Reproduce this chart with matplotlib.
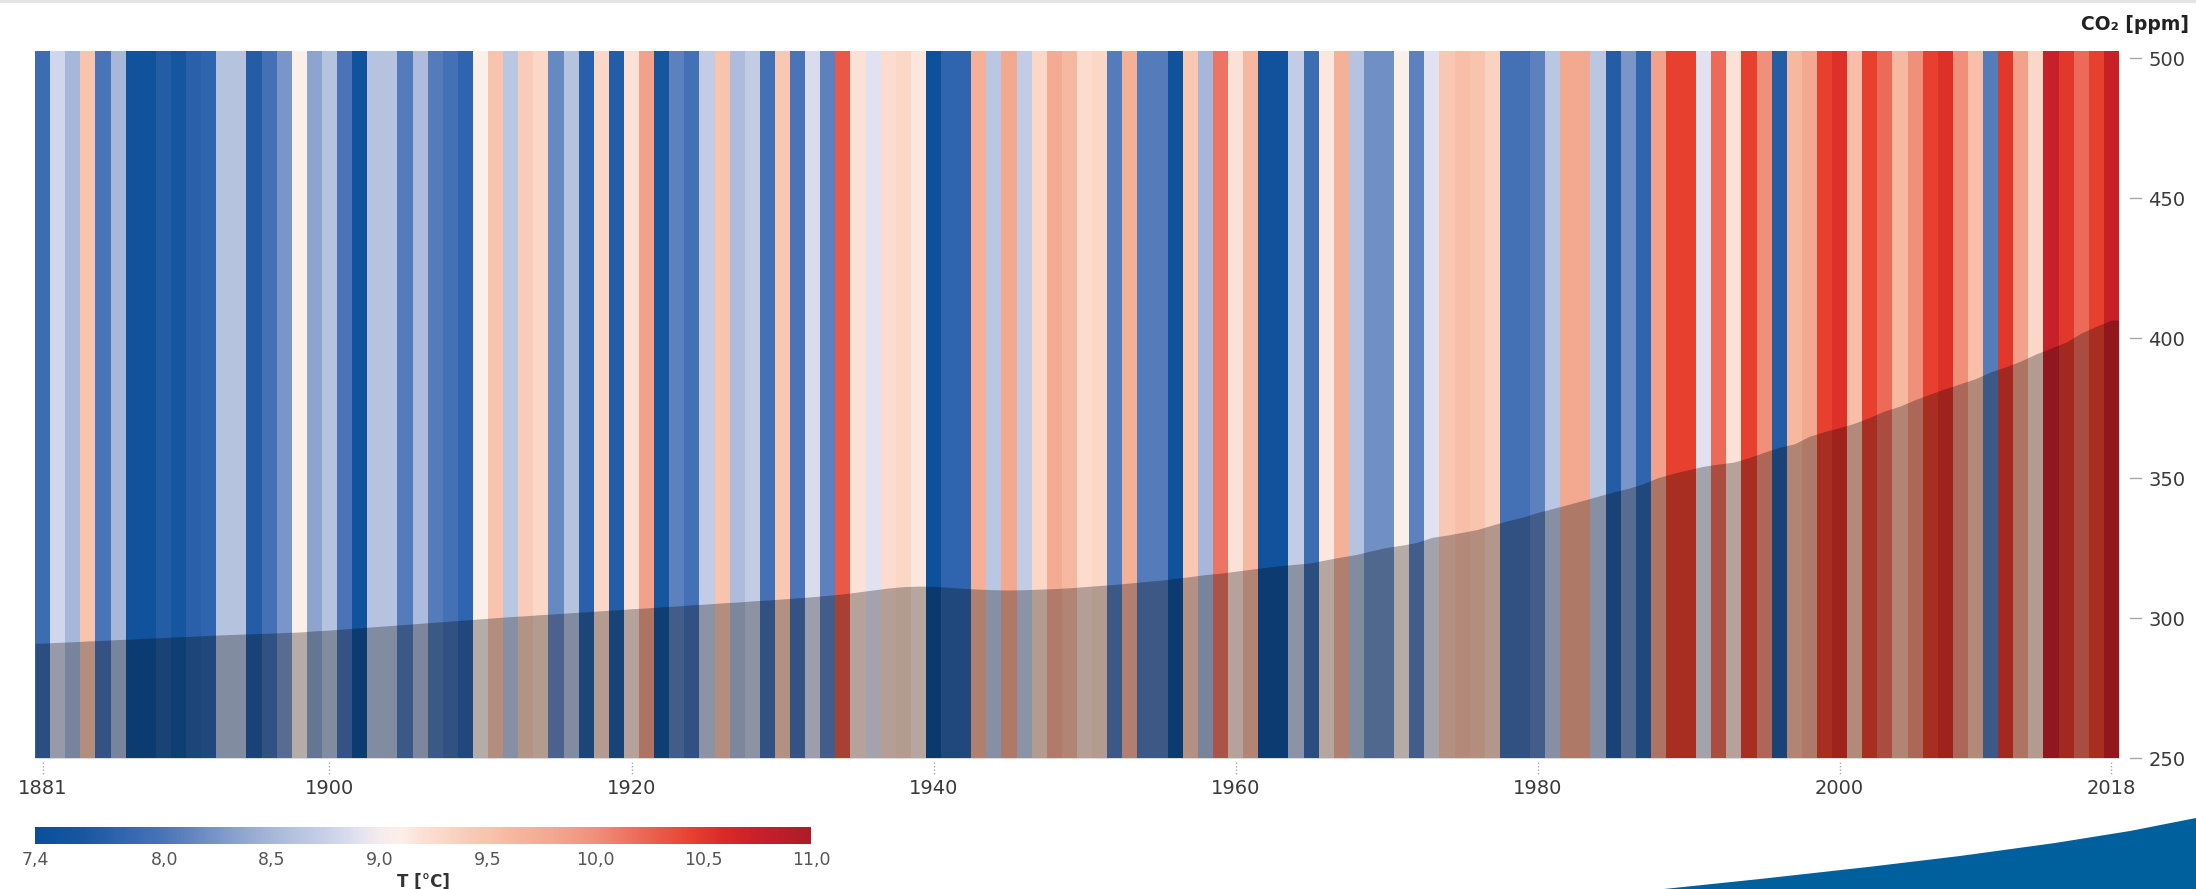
import numpy as np
import matplotlib
matplotlib.use("Agg")
import matplotlib.pyplot as plt
from matplotlib.colors import LinearSegmentedColormap, Normalize
from matplotlib.cm import ScalarMappable
from matplotlib.patches import Polygon, Rectangle
import matplotlib.transforms as mtransforms

# ---------------- data ----------------
years = np.arange(1881, 2019)

temperature = [
    7.9, 8.8, 8.5, 9.5, 8.0, 8.5, 7.5, 7.5, 7.7, 7.6,          # 1881-1890
    7.75, 7.8, 8.6, 8.6, 7.7, 7.95, 8.25, 9.1, 8.35, 8.6,      # 1891-1900
    8.0, 7.5, 8.6, 8.6, 8.05, 8.55, 8.05, 7.95, 7.8, 9.1,      # 1901-1910
    9.5, 8.65, 9.4, 9.3, 8.15, 8.6, 7.75, 9.3, 7.7, 9.2,       # 1911-1920
    9.85, 7.6, 8.1, 7.95, 8.7, 9.5, 8.55, 8.7, 7.95, 9.45,     # 1921-1930
    8.0, 8.85, 8.1, 10.3, 9.2, 8.9, 9.25, 9.3, 9.15, 7.45,     # 1931-1940
    7.8, 7.8, 9.7, 8.65, 9.8, 8.7, 9.3, 9.75, 9.6, 9.25,       # 1941-1950
    9.3, 8.05, 9.7, 8.05, 8.05, 7.5, 9.45, 8.5, 10.15, 9.2,    # 1951-1960
    9.6, 7.5, 7.5, 8.7, 7.9, 9.15, 9.7, 8.6, 8.2, 8.2,         # 1961-1970
    9.1, 8.1, 8.9, 9.45, 9.55, 9.5, 9.35, 7.95, 7.95, 8.1,     # 1971-1980
    8.65, 9.8, 9.8, 8.65, 7.7, 8.25, 7.8, 9.85, 10.45, 10.45,  # 1981-1990
    8.9, 10.2, 9.2, 10.45, 10.0, 7.7, 9.6, 9.8, 10.45, 10.55,  # 1991-2000
    9.55, 10.45, 10.2, 9.6, 10.0, 10.45, 10.55, 10.0, 9.55, 8.05,  # 2001-2010
    10.5, 9.85, 9.3, 10.75, 10.5, 10.2, 10.45, 10.75,          # 2011-2018
]

co2 = [
    291.0, 291.3, 291.5, 291.8, 292.0, 292.3, 292.5, 292.8, 293.0, 293.3,  # 1881-1890
    293.5, 293.8, 294.0, 294.2, 294.4, 294.6, 294.8, 295.0, 295.4, 295.7,  # 1891-1900
    296.1, 296.5, 296.9, 297.3, 297.7, 298.1, 298.5, 298.9, 299.3, 299.7,  # 1901-1910
    300.1, 300.5, 300.8, 301.2, 301.5, 301.9, 302.2, 302.6, 302.9, 303.3,  # 1911-1920
    303.6, 304.0, 304.3, 304.7, 305.0, 305.4, 305.7, 306.1, 306.4, 306.8,  # 1921-1930
    307.2, 307.6, 308.1, 308.6, 309.3, 310.0, 310.7, 311.2, 311.4, 311.3,  # 1931-1940
    311.0, 310.6, 310.3, 310.1, 310.0, 310.1, 310.3, 310.5, 310.8, 311.2,  # 1941-1950
    311.6, 312.0, 312.5, 313.0, 313.5, 314.1, 314.8, 315.5, 316.0, 316.7,  # 1951-1960
    317.4, 318.1, 318.7, 319.2, 319.7, 320.8, 321.8, 322.7, 324.0, 325.2,  # 1961-1970
    326.0, 327.0, 328.8, 329.6, 330.6, 331.6, 333.2, 334.7, 336.0, 337.7,  # 1971-1980
    339.1, 340.5, 342.0, 343.5, 345.0, 346.3, 348.0, 350.2, 351.7, 353.0,  # 1981-1990
    354.2, 355.0, 355.7, 357.3, 359.2, 361.0, 362.2, 364.9, 366.6, 368.0,  # 1991-2000
    369.6, 371.7, 374.0, 375.7, 378.0, 380.0, 381.9, 383.7, 385.5, 387.9,  # 2001-2010
    389.7, 391.8, 394.3, 396.4, 398.6, 401.8, 404.2, 406.4,                # 2011-2018
]

x_tick_years = [1881, 1900, 1920, 1940, 1960, 1980, 2000, 2018]
co2_ticks = [250, 300, 350, 400, 450, 500]
cbar_ticks = [7.4, 8.0, 8.5, 9.0, 9.5, 10.0, 10.5, 11.0]

cmap_values = [7.4, 7.6, 7.8, 8.0, 8.2, 8.4, 8.6, 8.75, 8.9, 9.0, 9.1, 9.2, 9.3,
               9.4, 9.5, 9.6, 9.8, 10.0, 10.2, 10.3, 10.45, 10.6, 10.8, 11.0]
cmap_colors = ["#0a4e9a", "#16569f", "#3065ae", "#4a75b8", "#7190c6", "#97abd3",
               "#b5c3df", "#c8d0e8", "#e2e2f1", "#f6ecee", "#fbefea", "#fce0d5",
               "#fad8c8", "#f8ccb8", "#f8c4ae", "#f7b8a0", "#f3a890", "#f0907a",
               "#ec6c5a", "#ea5a48", "#e8402f", "#d92a27", "#c41e2a", "#ad1c28"]

T_MIN, T_MAX = 7.4, 11.0
CO2_MIN, CO2_MAX = 250, 502.5

# ---------------- style ----------------
plt.rcParams['font.family'] = ['DejaVu Sans']

W, H = 2196, 889
fig = plt.figure(figsize=(W / 100, H / 100), dpi=100)
fig.patch.set_facecolor('white')


def fx(px):
    return px / W


def fy(py):
    return 1 - py / H


norm = Normalize(vmin=T_MIN, vmax=T_MAX)
cmap = LinearSegmentedColormap.from_list(
    "stripes",
    [((v - T_MIN) / (T_MAX - T_MIN), c) for v, c in zip(cmap_values, cmap_colors)],
)

# thin grey band at the very top
fig.add_artist(Rectangle((0, fy(3)), 1, 3 / H, transform=fig.transFigure,
                         color="#e4e4e4", lw=0))

# ---------------- stripes ----------------
ax = fig.add_axes([fx(35), fy(758), fx(2119) - fx(35), fy(51) - fy(758)])
edges = np.append(years - 0.5, years[-1] + 0.5)
ax.pcolormesh(edges, [0, 1], np.array(temperature)[None, :], cmap=cmap, norm=norm,
              shading='flat', antialiased=False, edgecolors='none')
ax.set_xlim(edges[0], edges[-1])
ax.set_ylim(0, 1)
ax.set_yticks([])
ax.set_xticks(x_tick_years)
ax.set_xticklabels([str(y) for y in x_tick_years])
ax.tick_params(axis='x', length=0, pad=15, labelsize=14, labelcolor='#3a3a3a')
for s in ax.spines.values():
    s.set_visible(False)

trans_x = mtransforms.blended_transform_factory(ax.transData, ax.transAxes)
for yr in x_tick_years:
    ax.plot([yr, yr], [-0.006, -0.024], transform=trans_x, color='#a8a8a8',
            lw=1, ls=(0, (1, 1.5)), clip_on=False)

# ---------------- CO2 overlay ----------------
ax2 = ax.twinx()
co2_x = np.concatenate([[edges[0]], years, [edges[-1]]])
co2_y = np.concatenate([[co2[0]], co2, [co2[-1]]])
ax2.fill_between(co2_x, CO2_MIN, co2_y, color='black', alpha=0.28, linewidth=0)
ax2.set_ylim(CO2_MIN, CO2_MAX)
ax2.set_xlim(edges[0], edges[-1])
ax2.set_yticks(co2_ticks)
ax2.tick_params(axis='y', length=0, pad=21, labelsize=14, labelcolor='#3a3a3a')
for s in ax2.spines.values():
    s.set_visible(False)

trans_y = mtransforms.blended_transform_factory(ax2.transAxes, ax2.transData)
for v in co2_ticks:
    ax2.plot([1.0053, 1.0106], [v, v], transform=trans_y, color='#a8a8a8',
             lw=1, clip_on=False)

fig.text(fx(2189), fy(24), 'CO₂ [ppm]', ha='right', va='center',
         fontsize=13.5, fontweight='bold', color='#222222')

# ---------------- colorbar ----------------
cax = fig.add_axes([fx(35), fy(844), fx(811) - fx(35), fy(827) - fy(844)])
cb = fig.colorbar(ScalarMappable(norm=norm, cmap=cmap), cax=cax,
                  orientation='horizontal', ticks=cbar_ticks)
cb.outline.set_visible(False)
cb.ax.set_xticklabels([f'{t:.1f}'.replace('.', ',') for t in cbar_ticks])
cb.ax.tick_params(length=0, pad=5, labelsize=12.5, labelcolor='#555555')
cb.set_label('T [°C]', fontsize=12, fontweight='bold', color='#333333', labelpad=3)

# ---------------- decorative swoosh ----------------
swoosh_px = [(1664, 889), (1760, 879), (1868, 867), (1960, 856), (2055, 843),
             (2130, 831), (2196, 818), (2196, 889)]
fig.add_artist(Polygon([(fx(px), fy(py)) for px, py in swoosh_px], closed=True,
                       transform=fig.transFigure, color='#00609e', lw=0))

fig.savefig('out.png', dpi=100)
